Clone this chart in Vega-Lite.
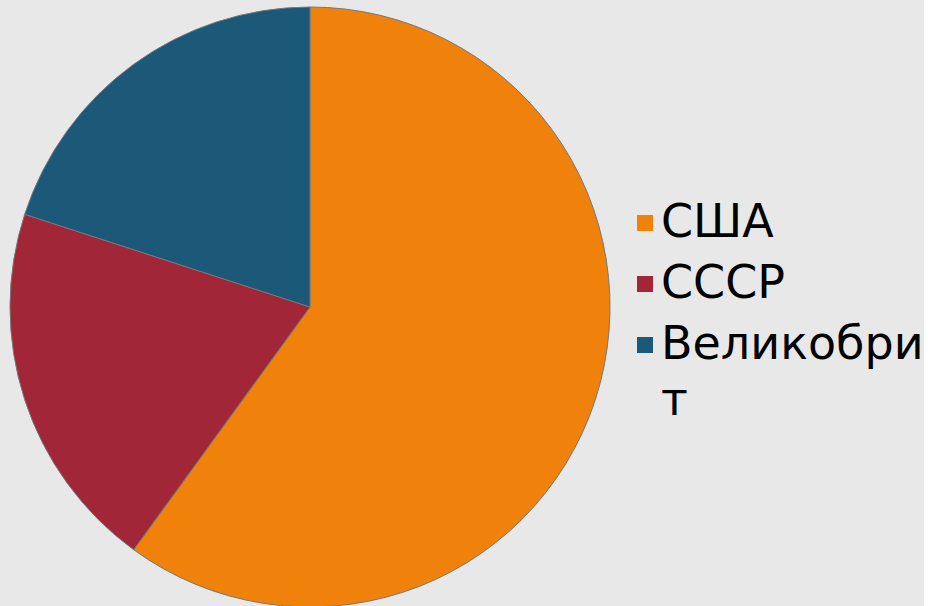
{
  "$schema": "https://vega.github.io/schema/vega-lite/v6.json",
  "width": 620,
  "height": 614,
  "padding": {"left": 0, "top": 0, "right": 0, "bottom": 0},
  "autosize": {"type": "pad"},
  "background": "#e8e8e8",
  "config": {
    "view": {"stroke": null},
    "font": "DejaVu Sans",
    "style": {"guide-label": {"lineHeight": 56}}
  },
  "data": {
    "values": [
      {"country": "США", "value": 60, "n": 1},
      {"country": "СССР", "value": 20, "n": 2},
      {"country": "Великобрит", "value": 20, "n": 3}
    ]
  },
  "mark": {"type": "arc", "outerRadius": 300, "stroke": "#777777", "strokeWidth": 1},
  "encoding": {
    "theta": {"field": "value", "type": "quantitative", "stack": true},
    "order": {"field": "n", "type": "quantitative"},
    "color": {
      "field": "country",
      "type": "nominal",
      "scale": {"domain": ["США", "СССР", "Великобрит"], "range": ["#f0820b", "#a02638", "#1c5878"]},
      "legend": {
        "title": null,
        "orient": "none",
        "legendX": 622,
        "legendY": 200,
        "padding": 0,
        "symbolType": "square",
        "symbolSize": 256,
        "symbolStrokeWidth": 0,
        "labelFontSize": 46,
        "labelFont": "DejaVu Sans",
        "labelColor": "#000000",
        "labelOffset": -7,
        "labelLimit": 400,
        "rowPadding": 15,
        "labelExpr": "datum.label == 'Великобрит' ? ['Великобри', 'т'] : datum.label",
        "encode": {
          "symbols": {
            "update": {"shape": {"signal": "datum.index === 2 ? 'M-1,2.1L1,2.1L1,4.1L-1,4.1Z' : 'square'"}}
          }
        }
      }
    }
  }
}
